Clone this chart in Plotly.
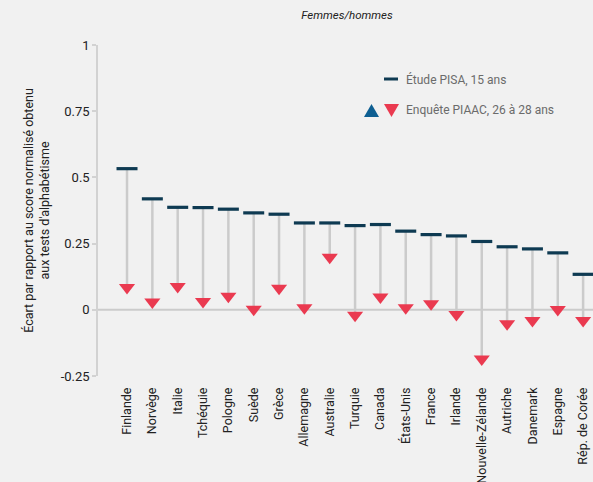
import plotly.graph_objects as go

countries = ["Finlande", "Norvège", "Italie", "Tchéquie", "Pologne", "Suède", "Grèce",
             "Allemagne", "Australie", "Turquie", "Canada", "États-Unis", "France",
             "Irlande", "Nouvelle-Zélande", "Autriche", "Danemark", "Espagne", "Rép. de Corée"]
pisa = [0.533, 0.419, 0.387, 0.386, 0.380, 0.366, 0.361, 0.328, 0.328, 0.318, 0.322,
        0.297, 0.284, 0.279, 0.258, 0.238, 0.230, 0.215, 0.134]
piaac = [0.084, 0.029, 0.088, 0.031, 0.051, 0.002, 0.081, 0.008, 0.198, -0.021, 0.048,
         0.008, 0.023, -0.018, -0.186, -0.053, -0.040, 0.001, -0.040]
y_ticks = [-0.25, 0, 0.25, 0.5, 0.75, 1]
y_tick_text = ["-0.25", "0", "0.25", "0.5", "0.75", "1"]

FONT = "Roboto, Liberation Sans, sans-serif"
BG = "#f1f1f1"
DARK = "#0e3a52"
RED = "#ea3a50"
BLUE = "#0e5f92"
GREY = "#cbcbcb"

seg_x, seg_y = [], []
for i, (a, b) in enumerate(zip(pisa, piaac)):
    seg_x += [countries[i], countries[i], None]
    seg_y += [a, b, None]

fig = go.Figure()
fig.add_trace(go.Scatter(x=seg_x, y=seg_y, mode="lines", line=dict(color=GREY, width=2.5),
                         hoverinfo="skip", showlegend=False))
fig.add_trace(go.Scatter(x=countries, y=pisa, mode="markers", name="Étude PISA, 15 ans",
                         marker=dict(symbol="line-ew", size=15, line=dict(color=DARK, width=3.2)),
                         showlegend=False))
fig.add_trace(go.Scatter(x=countries, y=piaac, mode="markers", name="Enquête PIAAC, 26 à 28 ans",
                         marker=dict(symbol="triangle-down", size=14, color=RED),
                         showlegend=False))

# zero line
fig.add_shape(type="line", xref="paper", yref="y", x0=0, x1=1, y0=0, y1=0,
              line=dict(color=GREY, width=2), layer="below")

# legend (manual)
W, H = 495, 331
def px(x):
    return (x - 98) / W
def py(y):
    return (376 - y) / H

fig.add_shape(type="line", xref="paper", yref="paper", x0=px(384), x1=px(398), y0=py(79), y1=py(79),
              line=dict(color=DARK, width=3))
def tri(cx, cy, up, color):
    hw, hh = 7.5, 6.5
    if up:
        path = f"M {px(cx-hw)} {py(cy+hh)} L {px(cx+hw)} {py(cy+hh)} L {px(cx)} {py(cy-hh)} Z"
    else:
        path = f"M {px(cx-hw)} {py(cy-hh)} L {px(cx+hw)} {py(cy-hh)} L {px(cx)} {py(cy+hh)} Z"
    fig.add_shape(type="path", xref="paper", yref="paper", path=path,
                  fillcolor=color, line=dict(width=0))
tri(371.5, 110.5, True, BLUE)
tri(391.5, 110.5, False, RED)
fig.add_annotation(text="Étude PISA, 15 ans", xref="paper", yref="paper", x=px(404), y=py(79),
                   xanchor="left", yanchor="middle", showarrow=False,
                   font=dict(family=FONT, size=12, color="#6b6b6b"))
fig.add_annotation(text="Enquête PIAAC, 26 à 28 ans", xref="paper", yref="paper", x=px(404), y=py(110),
                   xanchor="left", yanchor="middle", showarrow=False,
                   font=dict(family=FONT, size=12, color="#6b6b6b"))

fig.update_layout(
    width=593, height=482,
    margin=dict(l=98, r=0, t=45, b=106, autoexpand=False),
    paper_bgcolor=BG, plot_bgcolor=BG,
    font=dict(family=FONT, size=13, color="#222222"),
    title=dict(text="<i>Femmes/hommes</i>", x=347 / 593, xanchor="center",
               y=1 - 15 / 482, yanchor="middle", automargin=False,
               font=dict(family=FONT, size=11.5, color="#222222")),
    showlegend=False,
)
fig.update_xaxes(type="category", categoryorder="array", categoryarray=countries,
                 range=[-1.145, 18.39], tickangle=-90, showgrid=False, zeroline=False,
                 showline=False, ticks="", automargin=False,
                 tickfont=dict(size=12.5, color="#222222"),
                 ticklabelstandoff=8)
fig.update_yaxes(range=[-0.25, 1], tickvals=y_ticks, ticktext=y_tick_text, showgrid=False,
                 zeroline=False, showline=True, linecolor="#d2d2d2", linewidth=1.5,
                 ticks="outside", ticklen=4, tickcolor="#d2d2d2", tickwidth=1.5,
                 automargin=False, tickfont=dict(size=13, color="#222222"),
                 title=dict(text="Écart par rapport au score normalisé obtenu<br>aux tests d'alphabétisme",
                            font=dict(size=12.5, color="#222222"), standoff=8))

fig.write_html("out.html", config={"displayModeBar": False},
               post_script="document.body.style.margin='0';document.body.style.background='#f1f1f1';")
